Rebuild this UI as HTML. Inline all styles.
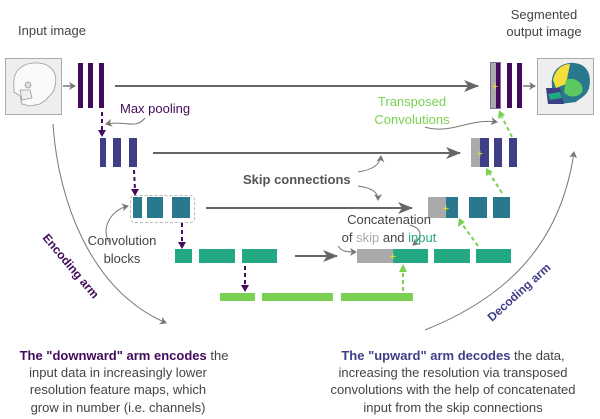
<!DOCTYPE html>
<html><head><meta charset="utf-8"><style>
html,body{margin:0;padding:0;background:#fff}
svg{display:block;font-family:"Liberation Sans","DejaVu Sans",sans-serif}
</style></head><body>
<svg width="600" height="419" viewBox="0 0 600 419">
<defs>
<marker id="ah" markerWidth="8" markerHeight="8" refX="6" refY="4" orient="auto" markerUnits="userSpaceOnUse"><path d="M0,0 L7,4 L0,8 L2,4z" fill="#777"/></marker>
<marker id="big" markerWidth="16" markerHeight="12" refX="14" refY="6" orient="auto" markerUnits="userSpaceOnUse"><path d="M0,0 L15,6 L0,12 L4,6z" fill="#666"/></marker>
</defs>
<rect x="5.5" y="58.5" width="56" height="56" fill="#eee" stroke="#aaa"/>
<rect x="537.5" y="58.5" width="56" height="56" fill="#eee" stroke="#aaa"/>
<!-- input skull -->
<g stroke="#999" fill="#fafafa" stroke-width="0.8">
<path d="M14,86 C12,70 24,62 38,63 C52,64 58,74 55,86 C54,94 48,96 46,100 L40,104 L30,106 L22,104 L20,96 L14,92z"/>
<path d="M20,90 L30,90 L32,98 L22,100z" fill="#eee"/><circle cx="28" cy="85" r="3" fill="#ddd"/>
</g>
<!-- output skull -->
<g>
<path d="M552,86 C550,70 562,62 574,63 C588,64 592,76 589,88 C587,96 580,98 576,102 L560,104 L552,98z" fill="#2a788e"/>
<path d="M553,80 C555,70 562,64 570,64 L566,84 L556,88z" fill="#f5dd3a"/>
<path d="M566,80 C575,76 585,84 582,92 C578,98 568,98 564,92z" fill="#5bc862"/>
<path d="M546,88 L560,88 L564,104 L548,104z" fill="#3f3f87"/>
<path d="M548,94 L560,92 L562,98 L550,100z" fill="#23a884"/>
</g>
<!-- level1 -->
<g fill="#420b5b"><rect x="78" y="63" width="5" height="45"/><rect x="88" y="63" width="5" height="45"/><rect x="99" y="63" width="5" height="45"/>
<rect x="496" y="63" width="5" height="45"/><rect x="507" y="63" width="5" height="45"/><rect x="517" y="63" width="5" height="45"/></g>
<rect x="491" y="63" width="5" height="45" fill="#aaa"/>
<rect x="490.5" y="62.5" width="10" height="46" fill="none" stroke="#8a6a9a"/>
<!-- level2 -->
<g fill="#3f3f87"><rect x="100" y="138" width="6" height="29"/><rect x="113" y="138" width="8" height="29"/><rect x="129" y="138" width="8" height="29"/>
<rect x="480" y="138" width="9" height="29"/><rect x="494" y="138" width="8" height="29"/><rect x="509" y="138" width="8" height="29"/></g>
<rect x="471" y="138" width="9" height="29" fill="#aaa"/>
<!-- level3 -->
<rect x="130.5" y="195.5" width="64" height="27" rx="4" fill="none" stroke="#bbb" stroke-dasharray="3,2"/>
<g fill="#2a788e"><rect x="133" y="197" width="9" height="21"/><rect x="147" y="197" width="16" height="21"/><rect x="172" y="197" width="18" height="21"/>
<rect x="446" y="197" width="12" height="21"/><rect x="469" y="197" width="18" height="21"/><rect x="493" y="197" width="17" height="21"/></g>
<rect x="428" y="197" width="18" height="21" fill="#aaa"/>
<!-- level4 -->
<g fill="#23a884"><rect x="175" y="249" width="17" height="14"/><rect x="199" y="249" width="36" height="14"/><rect x="242" y="249" width="35" height="14"/>
<rect x="393" y="249" width="35" height="14"/><rect x="434" y="249" width="36" height="14"/><rect x="476" y="249" width="35" height="14"/></g>
<rect x="357" y="249" width="36" height="14" fill="#aaa"/>
<!-- level5 -->
<g fill="#7ad151"><rect x="220" y="293" width="35" height="8"/><rect x="262" y="293" width="71" height="8"/><rect x="341" y="293" width="72" height="8"/></g>
<!-- pluses -->
<g fill="#f5e61a" font-size="11" text-anchor="middle"><text x="495" y="90">+</text><text x="480" y="157">+</text><text x="446" y="212">+</text><text x="393" y="260">+</text></g>
<!-- skip arrows -->
<g stroke="#666" stroke-width="2" marker-end="url(#big)">
<line x1="115" y1="86" x2="478" y2="86"/><line x1="153" y1="153" x2="460" y2="153"/><line x1="206" y1="208" x2="412" y2="208"/><line x1="295" y1="256" x2="337" y2="256"/></g>
<g stroke="#777" stroke-width="1.5" marker-end="url(#ah)"><line x1="63" y1="86" x2="75" y2="86"/><line x1="523" y1="86" x2="535" y2="86"/></g>
<!-- dashed arrows -->
<g stroke="#420b5b" stroke-width="2" stroke-dasharray="4,3" fill="none">
<line x1="102" y1="112" x2="102" y2="131"/><line x1="134" y1="170" x2="135" y2="190"/><line x1="182" y1="223" x2="182" y2="243"/><line x1="245" y1="266" x2="245" y2="286"/></g>
<g fill="#420b5b"><path d="M98,130 L106,130 L102,137z"/><path d="M131,189 L139,189 L135,196z"/><path d="M178,242 L186,242 L182,249z"/><path d="M241,285 L249,285 L245,292z"/></g>
<g stroke="#7ad151" stroke-width="2" stroke-dasharray="4,3" fill="none">
<line x1="403" y1="291" x2="403" y2="271"/><line x1="478" y1="246" x2="462" y2="224"/><line x1="502" y1="193" x2="490" y2="174"/><line x1="512" y1="137" x2="502" y2="117"/></g>
<g fill="#7ad151"><path d="M399,272 L407,272 L403,264z"/><path d="M458,227 L465,222 L459,218z"/><path d="M486,176 L493,172 L486,168z"/><path d="M498,119 L505,115 L499,110z"/></g>
<!-- thin curved annotation arrows -->
<g stroke="#777" stroke-width="1" fill="none" marker-end="url(#ah)">
<path d="M145,118 C135,130 125,120 106,124"/>
<path d="M425,127 C450,135 470,118 497,122"/>
<path d="M358,172 C372,170 380,165 381,156"/>
<path d="M358,186 C372,188 378,192 378,200"/>
<path d="M338,246 C342,252 348,252 356,252"/>
<path d="M410,225 C420,228 425,235 413,245"/>
<path d="M110,243 C100,230 110,210 128,206"/>
<path d="M53,124 C58,200 90,290 166,323"/>
<path d="M425,330 C500,300 560,250 574,152"/>
</g>
<!-- texts -->
<g font-size="13" fill="#444">
<text x="18" y="35">Input image</text>
<text x="544" y="19" text-anchor="middle">Segmented</text>
<text x="544" y="36" text-anchor="middle">output image</text>
<text x="120" y="113" fill="#420b5b">Max pooling</text>
<text x="412" y="106" text-anchor="middle" fill="#7ad151">Transposed</text>
<text x="412" y="124" text-anchor="middle" fill="#7ad151">Convolutions</text>
<text x="243" y="184" font-weight="bold" fill="#555">Skip connections</text>
<text x="389" y="224" text-anchor="middle">Concatenation</text>
<text x="389" y="242" text-anchor="middle">of <tspan fill="#aaa">skip</tspan> and <tspan fill="#23a884">input</tspan></text>
<text x="122" y="245" text-anchor="middle">Convolution</text>
<text x="122" y="263" text-anchor="middle">blocks</text>
<text transform="translate(42,238) rotate(50)" font-weight="bold" fill="#420b5b" font-size="12">Encoding arm</text>
<text transform="translate(492,322) rotate(-42)" font-weight="bold" fill="#3f3f87" font-size="12">Decoding arm</text>
<g text-anchor="middle">
<text x="124" y="360"><tspan font-weight="bold" fill="#420b5b">The "downward" arm encodes</tspan> the</text>
<text x="118" y="377">input data in increasingly lower</text>
<text x="118" y="394">resolution feature maps, which</text>
<text x="118" y="412">grow in number (i.e. channels)</text>
<text x="453" y="360"><tspan font-weight="bold" fill="#3f3f87">The "upward" arm decodes</tspan> the data,</text>
<text x="453" y="377">increasing the resolution via transposed</text>
<text x="453" y="394">convolutions with the help of concatenated</text>
<text x="453" y="412">input from the skip connections</text>
</g>
</g>
</svg>
</body></html>
